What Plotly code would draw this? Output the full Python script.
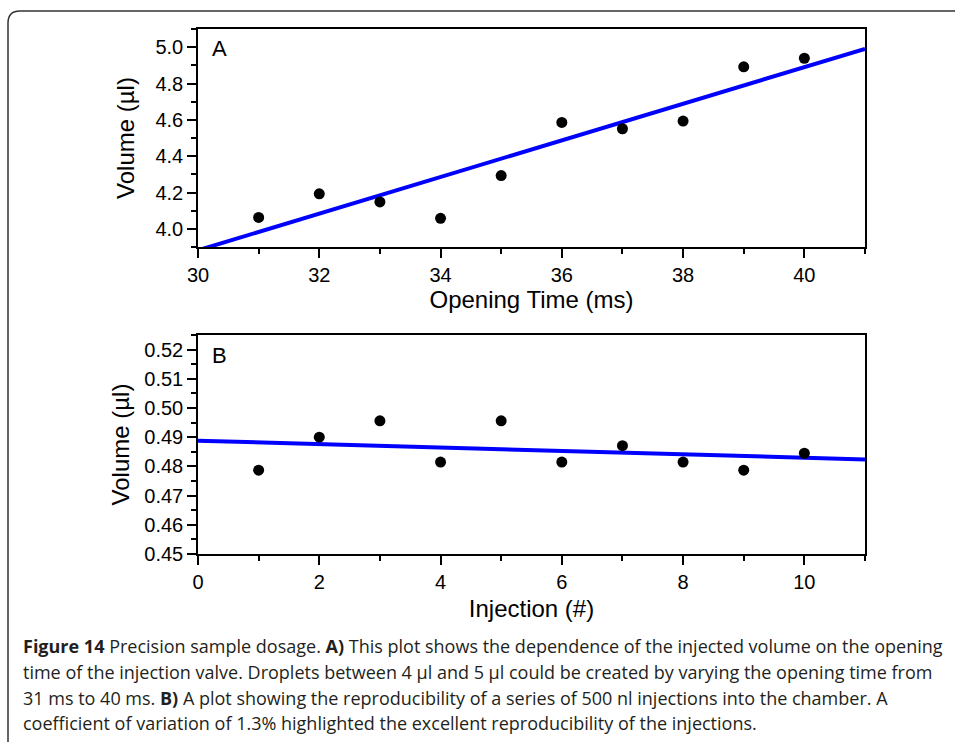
import plotly.graph_objects as go
from plotly.subplots import make_subplots

W, H = 955, 742

# Panel A data
opening_time_ms = [31, 32, 33, 34, 35, 36, 37, 38, 39, 40]
volume_a_ul = [4.063, 4.193, 4.148, 4.058, 4.293, 4.586, 4.551, 4.593, 4.892, 4.939]
fit_a_x = [30, 41]
fit_a_y = [3.882, 4.991]

# Panel B data
injection_no = [1, 2, 3, 4, 5, 6, 7, 8, 9, 10]
volume_b_ul = [0.4787, 0.4900, 0.4956, 0.4815, 0.4956, 0.4815, 0.4871, 0.4815, 0.4787, 0.4845]
fit_b_x = [0, 11]
fit_b_y = [0.4888, 0.4824]

caption_lines = [
    "<b>Figure 14</b> Precision sample dosage. <b>A)</b> This plot shows the dependence of the injected volume on the opening",
    "time of the injection valve. Droplets between 4 µl and 5 µl could be created by varying the opening time from",
    "31 ms to 40 ms. <b>B)</b> A plot showing the reproducibility of a series of 500 nl injections into the chamber. A",
    "coefficient of variation of 1.3% highlighted the excellent reproducibility of the injections.",
]

def px(x):
    return x / W

def py(y):
    return 1 - y / H

fig = make_subplots(rows=2, cols=1)

fig.add_trace(go.Scatter(x=fit_a_x, y=fit_a_y, mode="lines",
                         line=dict(color="#0000ff", width=4), showlegend=False), row=1, col=1)
fig.add_trace(go.Scatter(x=opening_time_ms, y=volume_a_ul, mode="markers",
                         marker=dict(color="black", size=11), showlegend=False), row=1, col=1)
fig.add_trace(go.Scatter(x=fit_b_x, y=fit_b_y, mode="lines",
                         line=dict(color="#0000ff", width=4), showlegend=False), row=2, col=1)
fig.add_trace(go.Scatter(x=injection_no, y=volume_b_ul, mode="markers",
                         marker=dict(color="black", size=11), showlegend=False), row=2, col=1)

font_family = "Liberation Sans, Arial, sans-serif"
title_font = dict(family=font_family, size=24, color="black")
minor_ticks = dict(ticks="outside", ticklen=5, tickwidth=1.5, tickcolor="black")
axis_common = dict(showline=True, linecolor="black", linewidth=1.5, mirror=True,
                   ticks="outside", ticklen=9, tickwidth=1.5, tickcolor="black",
                   showgrid=False, zeroline=False, automargin=False,
                   tickfont=dict(family=font_family, size=20, color="black"))

fig.update_layout(
    xaxis=dict(domain=[px(198), px(865)], range=[30, 41], tick0=30, dtick=2,
               minor=dict(dtick=1, **minor_ticks),
               title=dict(text="Opening Time (ms)", font=title_font, standoff=6),
               **axis_common),
    yaxis=dict(domain=[py(247), py(29)], range=[3.9, 5.1], tick0=4.0, dtick=0.2, tickformat=".1f",
               minor=dict(dtick=0.1, **minor_ticks),
               title=dict(text="Volume (µl)", font=title_font, standoff=14),
               **axis_common),
    xaxis2=dict(domain=[px(198), px(865)], range=[0, 11], tick0=0, dtick=2,
                minor=dict(dtick=1, **minor_ticks),
                title=dict(text="Injection (#)", font=title_font, standoff=8),
                **axis_common),
    yaxis2=dict(domain=[py(554), py(335)], range=[0.45, 0.525], tick0=0.45, dtick=0.01, tickformat=".2f",
                minor=dict(dtick=0.005, **minor_ticks),
                title=dict(text="Volume (µl)", font=title_font, standoff=8),
                **axis_common),
    width=W, height=H,
    margin=dict(l=0, r=0, t=0, b=0, pad=0, autoexpand=False),
    paper_bgcolor="white", plot_bgcolor="white",
    showlegend=False,
)

fig.add_annotation(text="A", xref="paper", yref="paper", x=px(210), y=py(49),
                   xanchor="left", yanchor="middle", showarrow=False,
                   font=dict(family=font_family, size=22, color="black"))
fig.add_annotation(text="B", xref="paper", yref="paper", x=px(210), y=py(356),
                   xanchor="left", yanchor="middle", showarrow=False,
                   font=dict(family=font_family, size=22, color="black"))

caption_y = [646, 672, 698, 723]
for line, yc in zip(caption_lines, caption_y):
    fig.add_annotation(text=line, xref="paper", yref="paper", x=px(21), y=py(yc),
                       xanchor="left", yanchor="middle", align="left", showarrow=False,
                       font=dict(family="Open Sans, sans-serif", size=18, color="#231f20"))

# Figure frame with rounded top-left corner
frame_path = (f"M {px(8)},{py(760)} L {px(8)},{py(23)} "
              f"Q {px(8)},{py(11)} {px(20)},{py(11)} L {px(970)},{py(11)}")
fig.add_shape(type="path", path=frame_path, xref="paper", yref="paper",
              line=dict(color="#333333", width=1.5))

fig.write_html("out.html", config={"displayModeBar": False},
               post_script="document.body.style.margin='0';document.body.style.overflow='hidden';")
